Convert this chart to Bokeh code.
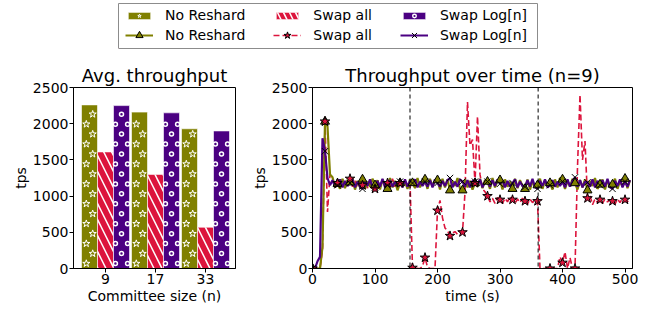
import numpy as np
from bokeh.plotting import figure
from bokeh.models import (ColumnDataSource, Range1d, FixedTicker, Span, Legend,
                          LegendItem, CDSView, IndexFilter)
from bokeh.layouts import column, row
from bokeh.embed import file_html
from bokeh.resources import INLINE

FONT = "DejaVu Sans"
OLIVE = "#808000"
CRIMSON = "#DC143C"
INDIGO = "#4B0082"

# ---------------- data ----------------
committee_sizes = ["9", "17", "33"]
avg_no_reshard = [2260, 2160, 1930]
avg_swap_all = [1610, 1300, 570]
avg_swap_log = [2250, 2150, 1900]

time_s = list(range(0, 512, 4))
tps_no_reshard = [
    0, 0, 0, 0, 300, 2030, 1960, 1300, 1260, 1120,
    1170, 1100, 1240, 1110, 1220, 1190, 1250, 1090, 1210, 1120,
    1230, 1100, 1200, 1130, 1240, 1150, 1220, 1090, 1230, 1140,
    1100, 1250, 1120, 1210, 1080, 1180, 1130, 1200, 1100, 1230,
    1180, 1110, 1250, 1120, 1220, 1230, 1100, 1240, 1130, 1210,
    1220, 1090, 1240, 1120, 1230, 1080, 1210, 1140, 1250, 1100,
    1080, 1230, 1120, 1210, 1090, 1180, 1130, 1240, 1110, 1220,
    1200, 1100, 1250, 1120, 1210, 1220, 1090, 1230, 1130, 1200,
    1100, 1240, 1110, 1220, 1140, 1100, 1230, 1090, 1210, 1120,
    1150, 1240, 1100, 1220, 1130, 1180, 1090, 1230, 1120, 1250,
    1230, 1100, 1210, 1130, 1240, 1180, 1090, 1220, 1120, 1230,
    1080, 1210, 1140, 1250, 1100, 1160, 1230, 1090, 1220, 1120,
    1160, 1240, 1100, 1210, 1130, 1240, 1110, 1220]
tps_swap_all = [
    0, 0, 0, 0, 250, 2030, 780, 1300, 1240, 1150,
    1180, 1120, 1230, 1140, 1200, 1240, 1130, 1210, 1120, 1190,
    1150, 1230, 1110, 1200, 1140, 1100, 1220, 1130, 1210, 1150,
    1180, 1120, 1240, 1130, 1200, 1180, 1120, 1230, 1140, 1200,
    10, 20, 0, 0, 30, 150, 20, 0, 0, 0,
    800, 940, 700, 560, 520, 450, 490, 510, 470, 520,
    500, 1050, 2300, 1700, 1780, 1180, 2100, 1300, 1100, 1060,
    1000, 920, 970, 900, 980, 950, 900, 970, 920, 990,
    950, 900, 960, 910, 970, 930, 890, 960, 910, 950,
    930, 0, 0, 0, 0, 0, 0, 0, 0, 160,
    80, 230, 0, 150, 0, 0, 1400, 2400, 1500, 1760,
    970, 1010, 880, 960, 910, 950, 900, 960, 920, 950,
    930, 890, 960, 910, 970, 950, 930, 900]
tps_swap_log = [
    0, 0, 100, 160, 1800, 1620, 1250, 1150, 1220, 1130,
    1150, 1230, 1120, 1210, 1140, 1180, 1230, 1120, 1200, 1130,
    1100, 1220, 1140, 1230, 1120, 1120, 1210, 1130, 1240, 1120,
    1150, 1220, 1130, 1200, 1140, 1200, 1120, 1230, 1130, 1210,
    1180, 1230, 1120, 1200, 1140, 1200, 1130, 1220, 1120, 1230,
    1180, 1130, 1210, 1140, 1220, 1250, 1120, 1200, 1130, 1230,
    1200, 1130, 1220, 1120, 1210, 1200, 1140, 1230, 1120, 1200,
    1200, 1130, 1220, 1140, 1230, 1170, 1220, 1120, 1210, 1130,
    1180, 1230, 1120, 1200, 1140, 1130, 1220, 1130, 1240, 1120,
    1100, 1210, 1140, 1230, 1120, 1150, 1220, 1130, 1200, 1140,
    1200, 1120, 1230, 1130, 1210, 1260, 1130, 1220, 1120, 1200,
    1190, 1130, 1230, 1120, 1210, 1150, 1220, 1130, 1240, 1120,
    1100, 1210, 1140, 1230, 1120, 1200, 1130, 1220]
reshard_times = [156, 361]
series_labels = ["No Reshard", "Swap all", "Swap Log[n]"]

BAR_COLORS = [OLIVE, CRIMSON, INDIGO]


def style_axes(p):
    for ax in list(p.xaxis) + list(p.yaxis):
        ax.major_label_text_font = FONT
        ax.major_label_text_font_size = "14px"
        ax.major_label_text_color = "black"
        ax.axis_label_text_font = FONT
        ax.axis_label_text_font_size = "14px"
        ax.axis_label_text_font_style = "normal"
        ax.axis_label_text_color = "black"
        ax.axis_line_color = "black"
        ax.major_tick_line_color = "black"
        ax.minor_tick_line_color = None
        ax.major_tick_out = 4
        ax.major_tick_in = 0
        ax.major_label_standoff = 1
        ax.axis_label_standoff = 1
    p.xgrid.grid_line_color = None
    p.ygrid.grid_line_color = None
    p.outline_line_color = "black"
    p.outline_line_alpha = 1
    p.outline_line_width = 1
    p.title.text_font = FONT
    p.title.text_font_size = "18px"
    p.title.text_font_style = "normal"
    p.title.text_color = "black"
    p.title.align = "center"
    p.title.standoff = 3


# ---------------- left: average throughput ----------------
p1 = figure(width=245, height=258, x_range=Range1d(-0.64, 2.6), y_range=Range1d(0, 2500),
            output_backend="svg", toolbar_location=None, title="Avg. throughput",
            min_border_left=73, min_border_right=10, min_border_top=37, min_border_bottom=40)
idx = np.arange(len(committee_sizes))
bw = 0.32
PITCH = 275.0   # hatch repeat (tps units) ~ 20 px, rows every ~10 px
for k, vals in enumerate([avg_no_reshard, avg_swap_all, avg_swap_log]):
    xs = idx + (k - 1) * bw
    if k == 1:
        p1.vbar(x=xs, top=vals, width=bw, fill_color=CRIMSON, line_color="white",
                line_alpha=0.6, line_width=1, hatch_pattern="left_diagonal_line",
                hatch_color="white", hatch_scale=16, hatch_weight=1.5)
        continue
    p1.vbar(x=xs, top=vals, width=bw, fill_color=BAR_COLORS[k], line_color="white",
            line_alpha=0.6, line_width=1)
    # staggered hatch decoration derived from bar extents
    hx, hy = [], []
    for xc, top in zip(xs, vals):
        for yy in np.arange(PITCH * 0.25, top - 60, PITCH):
            if k == 0:
                hx.append(xc - bw * 0.2)
                hy.append(yy)
            else:
                hx += [xc - bw * 0.38, xc + bw * 0.38]
                hy += [yy, yy]
        for yy in np.arange(PITCH * 0.75, top - 60, PITCH):
            hx.append(xc + bw * 0.2 if k == 0 else xc)
            hy.append(yy)
    if k == 0:
        p1.scatter(hx, hy, marker="star", size=7.5, fill_alpha=0,
                   line_color="white", line_width=1)
    else:
        p1.scatter(hx, hy, marker="circle", size=4, fill_alpha=0,
                   line_color="white", line_width=1.5)
p1.xaxis.ticker = FixedTicker(ticks=list(idx))
p1.xaxis.major_label_overrides = {int(i): s for i, s in zip(idx, committee_sizes)}
p1.yaxis.ticker = FixedTicker(ticks=[0, 500, 1000, 1500, 2000, 2500])
p1.xaxis.axis_label = "Committee size (n)"
p1.yaxis.axis_label = "tps"
style_axes(p1)

# ---------------- right: throughput over time ----------------
p2 = figure(width=405, height=258, x_range=Range1d(0, 512), y_range=Range1d(0, 2500),
            output_backend="svg", toolbar_location=None, title="Throughput over time (n=9)",
            min_border_left=67, min_border_right=18, min_border_top=37, min_border_bottom=40)
src = ColumnDataSource(dict(t=time_s, a=tps_no_reshard, b=tps_swap_all, c=tps_swap_log))
view = CDSView(filter=IndexFilter(list(range(0, len(time_s), 5))))

p2.line("t", "b", source=src, line_color=CRIMSON, line_width=1.6, line_dash="6 3")
p2.line("t", "a", source=src, line_color=OLIVE, line_width=2.2)
p2.line("t", "c", source=src, line_color=INDIGO, line_width=2.2)
p2.scatter("t", "a", source=src, view=view, marker="triangle", size=9,
           fill_color=OLIVE, line_color="black", line_width=1)
p2.scatter("t", "b", source=src, view=view, marker="star", size=10,
           fill_color=CRIMSON, line_color="black", line_width=1)
p2.scatter("t", "c", source=src, view=view, marker="x", size=9,
           line_color="black", line_width=1)
for ts in reshard_times:
    p2.add_layout(Span(location=ts, dimension="height", line_color="black",
                       line_dash="4 3", line_width=1))
p2.xaxis.ticker = FixedTicker(ticks=[0, 100, 200, 300, 400, 500])
p2.yaxis.ticker = FixedTicker(ticks=[0, 500, 1000, 1500, 2000, 2500])
p2.xaxis.axis_label = "time (s)"
p2.yaxis.axis_label = "tps"
style_axes(p2)

# ---------------- legend panel ----------------
lf = figure(width=650, height=50, x_range=Range1d(0, 1), y_range=Range1d(0, 1),
            output_backend="svg", toolbar_location=None,
            x_axis_location=None, y_axis_location=None,
            min_border_left=118, min_border_right=113, min_border_top=3, min_border_bottom=2)
lf.xgrid.grid_line_color = None
lf.ygrid.grid_line_color = None
lf.outline_line_color = "#8c8c8c"
lf.outline_line_width = 1

OFF = -10  # legend proxies live outside the visible range
bar_items = []
for k in range(3):
    kw = dict(fill_color=BAR_COLORS[k], line_color="white", line_alpha=0.6)
    if k == 1:
        kw.update(hatch_pattern="left_diagonal_line", hatch_color="white",
                  hatch_scale=12, hatch_weight=1.5)
    r = lf.vbar(x=[OFF], top=[OFF], width=0.1, **kw)
    rends = [r]
    if k == 0:
        rends.append(lf.scatter(x=[OFF], y=[OFF], marker="star", fill_alpha=0,
                                line_color="white", line_width=0.9))
    elif k == 2:
        rends.append(lf.scatter(x=[OFF], y=[OFF], marker="circle", fill_alpha=0,
                                line_color="white", line_width=1.4))
    bar_items.append(LegendItem(label=series_labels[k], renderers=rends))

line_specs = [
    (OLIVE, None, "triangle", OLIVE),
    (CRIMSON, "6 3", "star", CRIMSON),
    (INDIGO, None, "x", None),
]
line_items = []
for k, (lc, dash, mk, fc) in enumerate(line_specs):
    kw = dict(line_color=lc, line_width=2 if dash is None else 1.6)
    if dash:
        kw["line_dash"] = dash
    rl = lf.line(x=[OFF, OFF + 1], y=[OFF, OFF], **kw)
    rm = lf.scatter(x=[OFF], y=[OFF], marker=mk, fill_color=fc, line_color="black", line_width=1)
    line_items.append(LegendItem(label=series_labels[k], renderers=[rl, rm]))


def make_legend(items, gh, loc):
    lg = Legend(items=items, orientation="horizontal", location=loc,
                glyph_width=28, glyph_height=gh, label_standoff=12, spacing=28,
                padding=0, margin=0, border_line_color=None, background_fill_alpha=0,
                label_text_font=FONT, label_text_font_size="14px", label_text_color="black",
                label_height=16)
    lf.add_layout(lg, "center")


make_legend(bar_items, 9, (7, 25))
make_legend(line_items, 18, (7, 4))

layout = column(lf, row(p1, p2))

open("out.html", "w").write(file_html(layout, INLINE))
